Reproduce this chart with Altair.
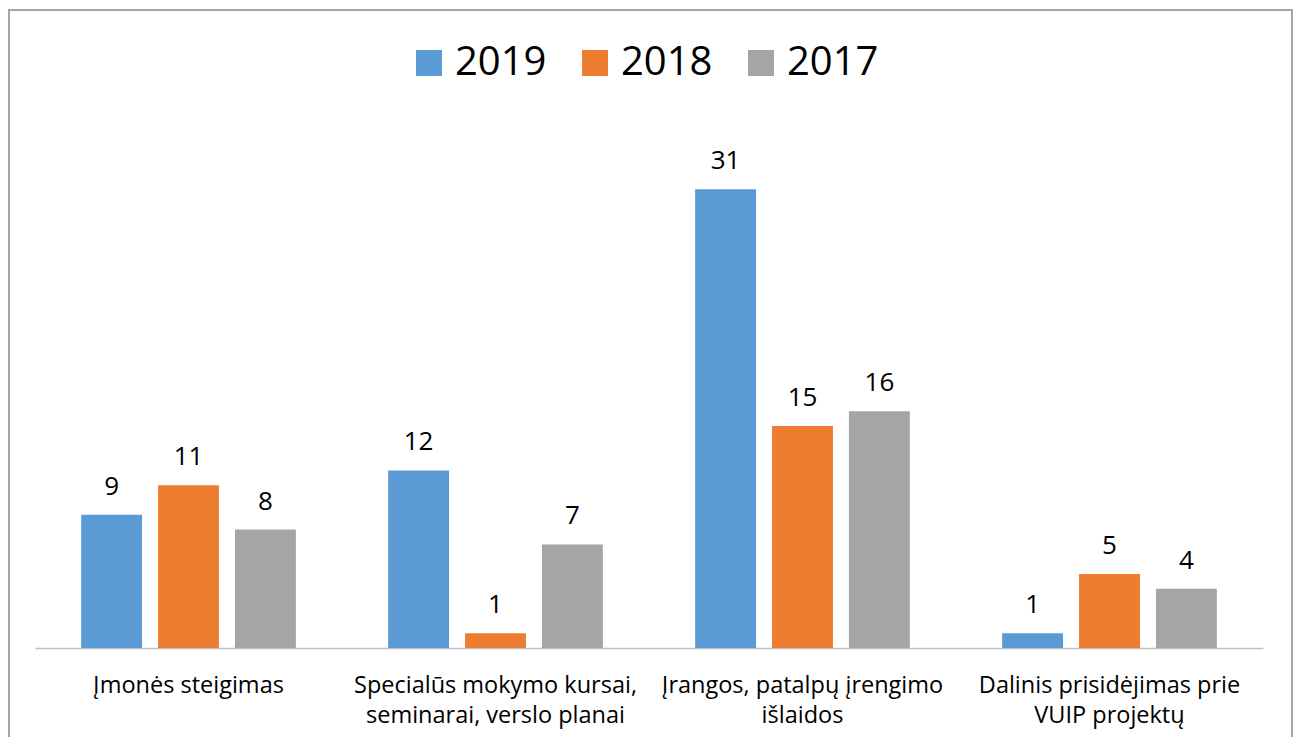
import altair as alt
import pandas as pd

categories = [
    "Įmonės steigimas",
    "Specialūs mokymo kursai, seminarai, verslo planai",
    "Įrangos, patalpų įrengimo išlaidos",
    "Dalinis prisidėjimas prie VUIP projektų",
]
label_lines = [
    ["Įmonės steigimas"],
    ["Specialūs mokymo kursai,", "seminarai, verslo planai"],
    ["Įrangos, patalpų įrengimo", "išlaidos"],
    ["Dalinis prisidėjimas prie", "VUIP projektų"],
]
series = ["2019", "2018", "2017"]
values_2019 = [9, 12, 31, 1]
values_2018 = [11, 1, 15, 5]
values_2017 = [8, 7, 16, 4]
colors = ["#5B9BD5", "#ED7D31", "#A5A5A5"]

rows = []
for s, vals in zip(series, [values_2019, values_2018, values_2017]):
    for c, v in zip(categories, vals):
        rows.append({"Kategorija": c, "Metai": s, "Reikšmė": v})
df = pd.DataFrame(rows)

FONT = "Open Sans"

parts = []
for c, lines in zip(categories, label_lines):
    arr = "[" + ",".join("'" + l + "'" for l in lines) + "]"
    parts.append(f"datum.label == '{c}' ? {arr}")
label_expr = " : ".join(parts) + " : datum.label"

W, H = 1228, 518

x = alt.X(
    "Kategorija:N",
    sort=categories,
    scale=alt.Scale(paddingInner=0, paddingOuter=0),
    axis=alt.Axis(
        title=None,
        labelAngle=0,
        labelExpr=label_expr,
        labelFont=FONT,
        labelFontSize=23.5,
        labelColor="#000000",
        labelPadding=25,
        labelLineHeight=30,
        labelBaseline="top",
        ticks=False,
        domainColor="#BFBFBF",
        domainWidth=1.3,
        labelLimit=400,
    ),
)
xoff = alt.XOffset(
    "Metai:N",
    sort=series,
    scale=alt.Scale(paddingInner=0.208, paddingOuter=0.6),
)
y = alt.Y(
    "Reikšmė:Q",
    scale=alt.Scale(domain=[0, 35], nice=False),
    axis=None,
)

bars = alt.Chart(df).mark_bar().encode(
    x=x,
    xOffset=xoff,
    y=y,
    color=alt.Color(
        "Metai:N",
        sort=series,
        scale=alt.Scale(domain=series, range=colors),
        legend=alt.Legend(
            title=None,
            orient="none",
            legendX=374,
            legendY=-87,
            direction="horizontal",
            symbolType="square",
            symbolSize=676,
            symbolStrokeWidth=0,
            symbolOpacity=1,
            labelFont=FONT,
            labelFontSize=40,
            labelColor="#000000",
            labelOffset=6,
            columnPadding=28,
        ),
    ),
)

texts = alt.Chart(df).mark_text(
    baseline="alphabetic", dy=-20, font=FONT, fontSize=26, color="#000000"
).encode(
    x=alt.X("Kategorija:N", sort=categories),
    xOffset=alt.XOffset("Metai:N", sort=series),
    y=y,
    text="Reikšmė:Q",
)

border = alt.Chart(pd.DataFrame({"b": [0]})).mark_rect(
    fill=None, stroke="#A6A6A6", strokeWidth=2
).encode(
    x=alt.value(-26),
    x2=alt.value(1257),
    y=alt.value(-120),
    y2=alt.value(640),
)

chart = (
    alt.layer(border, bars, texts)
    .properties(
        width=W,
        height=H,
        background="white",
        padding={"left": 27, "top": 122, "right": 31, "bottom": 89},
        autosize=alt.AutoSizeParams(type="none"),
    )
    .configure_view(stroke=None, strokeWidth=0)
)

chart.save("out.html", embed_options={"renderer": "svg", "actions": False})
